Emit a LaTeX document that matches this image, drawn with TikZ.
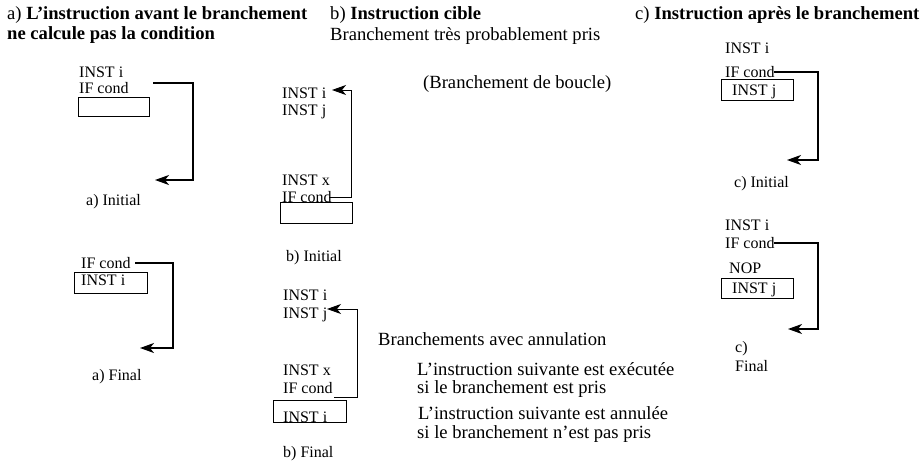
\documentclass[tikz,border=0pt]{standalone}
\usepackage{fontspec}
\setmainfont{Liberation Serif}
\usetikzlibrary{arrows.meta}

\tikzset{
  lbl/.style={anchor=base west, inner sep=0pt, font=\fontsize{16}{18}\selectfont},
  txt/.style={anchor=base west, inner sep=0pt, font=\fontsize{18.6}{21}\selectfont},
  slot/.style={line width=1pt},
  jump/.style={line width=1.5pt, -{Stealth[length=14pt,width=10pt,inset=4pt]}}
}

\begin{document}
\begin{tikzpicture}[x=1pt,y=-1pt]
    \useasboundingbox (0,0) rectangle (922,461);

    % headings
    \node[txt] (heada) at (7,19) {a) \textbf{L’instruction avant le branchement}};
    \node[txt] (headaa) at (7,39) {\textbf{ne calcule pas la condition}};
    \node[txt] (headb) at (330,19) {b) \textbf{Instruction cible}};
    \node[txt] (headbb) at (330,40) {Branchement très probablement pris};
    \node[txt] (loop) at (423,88) {(Branchement de boucle)};
    \node[txt] (headc) at (635,19) {c) \textbf{Instruction après le branchement}};

    % a) initial
    \node[lbl] (ainsti) at (79,77) {INST i};
    \node[lbl] (aif) at (79,93) {IF cond};
    \draw[slot] (78,97) rectangle (149,116);
    \coordinate (aout) at (153,83);
    \coordinate (ain) at (155,180);
    \draw[jump] (aout) -- (193,83) |- (ain);
    \node[lbl] (acapi) at (86,205) {a) Initial};

    % a) final
    \node[lbl] (aifb) at (81,268) {IF cond};
    \draw[slot] (74,272) rectangle (147,293);
    \node[lbl] (ainstib) at (81,285) {INST i};
    \coordinate (aoutb) at (135,263);
    \coordinate (ainb) at (140,348);
    \draw[jump] (aoutb) -- (173,263) |- (ainb);
    \node[lbl] (acapf) at (92,380) {a) Final};

    % b) initial
    \node[lbl] (binsti) at (282,98) {INST i};
    \node[lbl] (binstj) at (282,115) {INST j};
    \node[lbl] (binstx) at (282,185) {INST x};
    \node[lbl] (bif) at (282,202) {IF cond};
    \draw[slot] (280,202) rectangle (352,223);
    \coordinate (bout) at (329,197);
    \coordinate (bin) at (332,90);
    \draw[jump, line width=1pt] (bout) -- (351,197) |- (bin);
    \node[lbl] (bcapi) at (286,261) {b) Initial};

    % b) final
    \node[lbl] (binstib) at (283,300) {INST i};
    \node[lbl] (binstjb) at (283,318) {INST j};
    \node[lbl] (binstxb) at (283,375) {INST x};
    \node[lbl] (bifb) at (283,393) {IF cond};
    \draw[slot] (273,400) rectangle (346,422);
    \node[lbl] (binstic) at (283,422) {INST i};
    \coordinate (boutb) at (334,397);
    \coordinate (binb) at (327,309);
    \draw[jump, line width=1pt] (boutb) -- (357,397) |- (binb);
    \node[lbl] (bcapf) at (283,457) {b) Final};

    % annulation
    \node[txt] (annul) at (378,345) {Branchements avec annulation};
    \node[txt] (taken) at (417,375) {L’instruction suivante est exécutée};
    \node[txt] (takenb) at (417,393) {si le branchement est pris};
    \node[txt] (nottaken) at (418,419) {L’instruction suivante est annulée};
    \node[txt] (nottakenb) at (417,438) {si le branchement n’est pas pris};

    % c) initial
    \node[lbl] (cinsti) at (725,53) {INST i};
    \node[lbl] (cif) at (725,77) {IF cond};
    \draw[slot] (721,79) rectangle (793,100);
    \node[lbl] (cinstj) at (732,95) {INST j};
    \coordinate (cout) at (774,72);
    \coordinate (cin) at (787,160);
    \draw[jump] (cout) -- (818,72) |- (cin);
    \node[lbl] (ccapi) at (734,187) {c) Initial};

    % c) final
    \node[lbl] (cinstib) at (725,230) {INST i};
    \node[lbl] (cifb) at (725,248) {IF cond};
    \node[lbl] (cnop) at (729,273) {NOP};
    \draw[slot] (721,278) rectangle (793,298);
    \node[lbl] (cinstjb) at (732,293) {INST j};
    \coordinate (coutb) at (774,243);
    \coordinate (cinb) at (788,329);
    \draw[jump] (coutb) -- (818,243) |- (cinb);
    \node[lbl] (ccapf) at (735,352) {c)};
    \node[lbl] (ccapfb) at (735,371) {Final};
\end{tikzpicture}
\end{document}
